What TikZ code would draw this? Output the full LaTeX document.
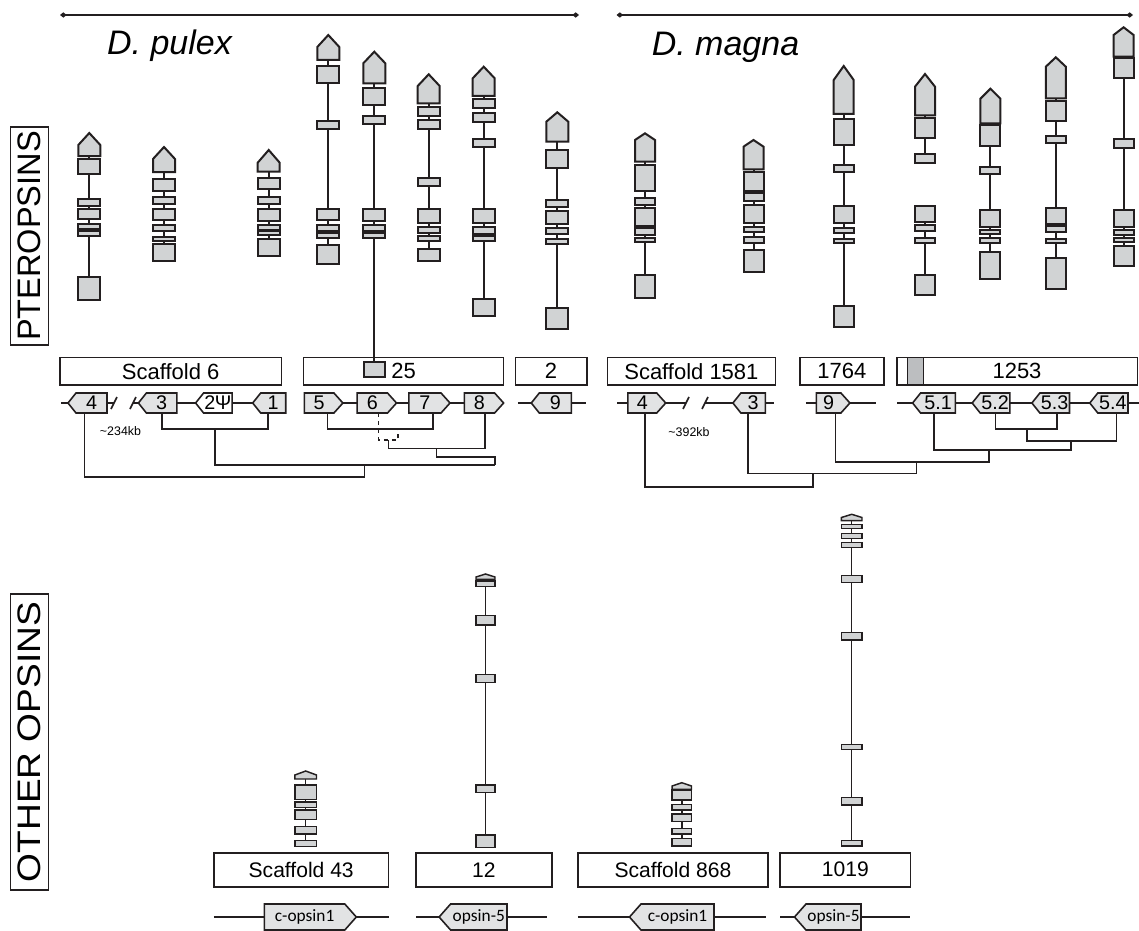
\documentclass[tikz,border=0pt]{standalone}
\usepackage{fontspec}
\usepackage{graphicx}
\setmainfont{Liberation Sans}
\newfontfamily\carl{Carlito}
\usetikzlibrary{arrows.meta}
\definecolor{exonfill}{HTML}{D1D3D4}
\definecolor{lblfill}{HTML}{E2E3E4}
\definecolor{ink}{HTML}{231F20}
\definecolor{stripfill}{HTML}{BCBEC0}
% gene structure: x, halfwidth, tip, shoulder, base, intron end, boxes
\newcommand{\gs}[7]{%
  \draw[intron] (#1,#5) -- (#1,#6);
  \draw[exon] ({#1-#2},#5) -- ({#1-#2},#4) -- (#1,#3) -- ({#1+#2},#4) -- ({#1+#2},#5) -- cycle;
  \foreach \a/\b in {#7} {\draw[exon] ({#1-#2},\a) rectangle ({#1+#2},\b);}
}
% label pointing left: name, boxL, boxR, yc, halfh, depth, text, style
\newcommand{\lblL}[8]{%
  \draw[#8] ({#2-#6},#4) -- (#2,{#4-#5}) -- (#3,{#4-#5}) -- (#3,{#4+#5}) -- (#2,{#4+#5}) -- cycle;
  \node[lbltxt] (#1) at ({(#2+#3)/2},#4) {#7};
}
\newcommand{\lblR}[8]{%
  \draw[#8] (#2,{#4-#5}) -- (#3,{#4-#5}) -- ({#3+#6},#4) -- (#3,{#4+#5}) -- (#2,{#4+#5}) -- cycle;
  \node[lbltxt] (#1) at ({(#2+#3)/2},#4) {#7};
}
\begin{document}
\begin{tikzpicture}[x=0.75pt,y=-0.75pt,
  exon/.style={draw=ink,fill=exonfill,line width=1.5pt},
  intron/.style={draw=ink,line width=1.5pt},
  lbl/.style={draw=ink,fill=lblfill,line width=1.2pt},
  lblw/.style={draw=ink,fill=white,line width=1.2pt},
  lbltxt/.style={inner sep=0pt,minimum height=15pt,font=\fontsize{14.8}{16}\selectfont},
  sbox/.style={draw=ink,line width=1.2pt},
  stxt/.style={inner sep=0pt,font=\fontsize{16.5}{18}\selectfont},
  btxt/.style={inner sep=0pt,font=\fontsize{15.8}{18}\selectfont},
  tree/.style={draw=ink,line width=1.2pt},
  bb/.style={draw=ink,line width=1.2pt},
  bar/.style={draw=ink,line width=2pt},
  side/.style={draw=ink,line width=1.2pt,rotate=90,inner sep=0pt,minimum height=28.5pt,font=\fontsize{24.4}{26}\selectfont},
  title/.style={inner sep=0pt,font=\fontsize{25.5}{28}\selectfont\itshape},
  kb/.style={inner sep=0pt,font=\fontsize{9.3}{10}\selectfont}
]
\useasboundingbox (0,0) rectangle (1139,931);

% top bars
\coordinate (bl1) at (60,15); \coordinate (bl2) at (579,15);
\coordinate (br1) at (616.5,15); \coordinate (br2) at (1133,15);
\draw[bar,{Diamond[length=5pt,width=4pt]}-{Diamond[length=5pt,width=4pt]}] (bl1) -- (bl2);
\draw[bar,{Diamond[length=5pt,width=4pt]}-{Diamond[length=5pt,width=4pt]}] (br1) -- (br2);
\node[title] (tpulex) at (169.5,46) {D. pulex};
\node[title] (tmagna) at (725.5,47) {D. magna};

% side labels
\node[side,minimum width=163.5pt] (ptero) at (29.5,236) {PTEROPSINS};
\node[side,minimum width=222pt] (other) at (29.5,742) {\scalebox{1.14}[1]{OTHER OPSINS}};

% scaffold boxes (top)
\draw[sbox] (60,357.5) rectangle (281.4,385);
\node[stxt] (s6) at (170.7,371.2) {Scaffold 6};
\draw[sbox] (303.6,357.5) rectangle (503.6,385);
\node[stxt] (s25) at (403.6,371.2) {25};
\draw[sbox] (515.4,357.5) rectangle (586.8,385);
\node[stxt] (s2) at (551.1,371.2) {2};
\draw[sbox] (607.5,357.5) rectangle (775.3,385);
\node[stxt] (s1581) at (691.4,371.2) {Scaffold 1581};
\draw[sbox] (799.8,357.5) rectangle (884,385);
\node[stxt] (s1764) at (841.9,371.2) {1764};
\draw[sbox] (897,357.5) rectangle (1137.5,385);
\draw[sbox,fill=stripfill] (907.5,357.5) rectangle (923.3,385);
\node[stxt] (s1253) at (1017,371.2) {1253};

% D. pulex genes
\gs{89.3}{11}{133}{145}{156}{277}{159/174,199/206,209/219,224/229,231/236,277/300}
\gs{164}{11}{147}{159}{172}{244}{179.3/190.7,197.3/204,208.7/220,225.3/230.7,236.7/240.7,244.3/261}
\gs{268.7}{11}{150}{162.7}{171.7}{239}{177.7/188.7,197.3/204,208.7/220.7,225.3/230,231.3/235.3,239/256}
\gs{328.3}{11}{35}{47}{60}{245}{66/82.7,121/129,209/220,225/231,233/237.7,245/263.7}
\gs{374.3}{11}{51.7}{63.3}{83.3}{361.7}{87.7/105,116/124,209/221,225/231,232.7/237.7}
\draw[exon] (364,361.7) rectangle (385,376.7);
\gs{428.7}{11}{74.3}{86}{103.3}{249}{106.7/116,120.3/129,177.7/185.7,209/223.3,227.3/233.3,235.7/240.7,249.3/261.3}
\gs{483.7}{11}{66.7}{78.3}{96}{299}{99.3/107.7,113.3/121.7,138.7/146.7,209/223.3,227.3/234,236/241,299.3/315.7}
\gs{557.3}{11}{112.3}{121.7}{141.7}{308}{150/167.7,200/207.3,211/224.3,228.3/234,239/244,308.3/329.3}

% D. magna genes
\gs{645}{10}{133.3}{140}{161.7}{274.7}{165/191,197.7/205,207.7/226,228.3/235,238/242.3,274.7/297.7}
\gs{753.5}{10}{140}{146.7}{169.3}{250}{171.7/190.7,193.3/200.7,204.7/223.3,226.7/232,237.3/242.7,250/271.7}
\gs{843.7}{10}{66}{80}{114}{306}{119.3/145.3,165/172,206/222.7,227.7/232.7,238.7/242.7,306/326.7}
\draw[intron] (925,206) -- (925,275);
\gs{925}{10}{74}{86.7}{115.3}{154.3}{118.3/138,154.3/163,206/221.7,225/230.7,238.3/242.7,275/295}
\gs{990.4}{10}{88.7}{98.7}{123.3}{251.7}{125.3/145.7,167.3/174,210.3/226.7,230/234.3,238.3/242.7,251.7/279}
\gs{1055.8}{10}{57.3}{66.7}{98.3}{258.3}{101/121,135.7/143.3,207.7/224,226.3/232.3,238.7/243.3,258.3/289.3}
\gs{1123.6}{10}{27.3}{35}{56.7}{245.7}{58.3/78.3,139.3/147.7,210.3/226.7,230/235,238/242.3,245.7/265.7}

% D. pulex label row backbones
\draw[bb] (61.4,403) -- (114,403);
\draw[bb] (111,409) -- (117,397);
\draw[bb] (130,409) -- (136,397);
\draw[bb] (133,403) -- (285.7,403);
\draw[bb] (304.3,403) -- (503,403);
\draw[bb] (517.9,403) -- (585.7,403);
% D. pulex labels
\lblL{p4}{76}{107}{403}{10}{8}{4}{lbl}
\lblL{p3}{146.4}{176.8}{403}{10}{8}{3}{lbl}
\lblL{p2}{203.6}{232.1}{403}{10}{8}{2\kern-0.5pt Ψ}{lblw}
\lblL{p1}{260.7}{285.7}{403}{10}{8}{1}{lbl}
\lblR{p5}{304.3}{333.9}{403}{10}{9}{5}{lbl}
\lblR{p6}{357.1}{387.5}{403}{10}{9}{6}{lbl}
\lblR{p7}{408.9}{441}{403}{10}{9}{7}{lbl}
\lblR{p8}{464.3}{494.6}{403}{10}{9}{8}{lbl}
\lblL{p9}{539.3}{571.4}{403}{10}{8}{9}{lbl}
\node[kb] (kb1) at (120.5,431) {\textasciitilde 234kb};

% D. pulex tree
\draw[tree] (p3.south -| 161.8,0) -- (161.8,429) -- (267.9,429) -- (p1.south -| 267.9,0);
\draw[tree] (p5.south -| 327.5,0) -- (327.5,429) -- (433.2,429) -- (p7.south -| 433.2,0);
\draw[tree,dashed] (p6.south -| 378.6,0) -- (378.6,440) -- (398.2,440) -- (398.2,429);
\draw[tree] (388.6,440) -- (388.6,448.3) -- (485,448.3) -- (p8.south -| 485,0);
\draw[tree] (436.4,448.3) -- (436.4,456.7) -- (495,456.7) -- (495,465);
\draw[tree] (215,429) -- (215,465) -- (495,465);
\draw[tree] (364.3,465) -- (364.3,476.7) -- (84.6,476.7) -- (p4.south -| 84.6,0);

% D. magna label row backbones
\draw[bb] (617.4,403) -- (686,403);
\draw[bb] (683,409) -- (689,397);
\draw[bb] (702,409) -- (708,397);
\draw[bb] (705,403) -- (774,403);
\draw[bb] (805.8,403) -- (876,403);
\draw[bb] (897,403) -- (1139,403);
\lblR{m4}{627.9}{656.7}{403}{10}{9}{4}{lbl}
\lblL{m3}{740.9}{765.4}{403}{10}{8}{3}{lbl}
\lblR{m9}{816.3}{840.9}{403}{10}{9}{9}{lbl}
\lblL{m51}{920.6}{955.4}{403}{10}{8}{5.1}{lbl}
\lblL{m52}{980.2}{1009.8}{403}{10}{8}{5.2}{lbl}
\lblL{m53}{1039.9}{1069.5}{403}{10}{8}{5.3}{lbl}
\lblL{m54}{1097.8}{1128}{403}{10}{8}{5.4}{lbl}
\node[kb] (kb2) at (689,432) {\textasciitilde 392kb};

% D. magna tree
\draw[tree] (m52.south -| 995.3,0) -- (995.3,429) -- (1056.7,429) -- (m53.south -| 1056.7,0);
\draw[tree] (1026.8,429) -- (1026.8,440.7) -- (1116.3,440.7) -- (m54.south -| 1116.3,0);
\draw[tree] (m51.south -| 933.9,0) -- (933.9,450) -- (1070.7,450) -- (1070.7,440.7);
\draw[tree] (m9.south -| 835.6,0) -- (835.6,461.7) -- (989,461.7) -- (989,450);
\draw[tree] (m3.south -| 747.9,0) -- (747.9,473.3) -- (916.3,473.3) -- (916.3,461.7);
\draw[tree] (m4.south -| 645.1,0) -- (645.1,486.7) -- (812.8,486.7) -- (812.8,473.3);

% other opsins
\begin{scope}[exon/.style={draw=ink,fill=exonfill,line width=1.1pt},
              intron/.style={draw=ink,line width=1.1pt},
              lbltxt/.style={inner sep=0pt,minimum height=19.5pt,font=\carl\fontsize{13}{15}\selectfont}]
\gs{305.7}{10.8}{771}{775}{779}{840.7}{785/799.3,802/807.7,810/819.3,826.7/834,840.7/846.7}
\gs{485.5}{9.5}{574}{577}{579.3}{835}{581/586.7,615.7/625,674.3/682.7,785/792.3,835/847.3}
\gs{681.8}{9.7}{782.7}{786}{789.3}{838.3}{790/800,804.3/810,814/821.7,828.3/834,838.3/846}
\gs{851.7}{10.3}{514.3}{517.5}{520.7}{840.7}{524.3/528.3,533.3/538.3,542.3/547.3,575.7/582.7,632.7/640,744.3/749.3,797.3/805,840.7/846}

\draw[sbox] (213.8,852.7) rectangle (388.5,886.7);
\node[btxt] (s43) at (301.2,869.7) {Scaffold 43};
\draw[sbox] (416.1,852.7) rectangle (551.7,886.7);
\node[btxt] (s12) at (483.9,869.7) {12};
\draw[sbox] (577.9,852.7) rectangle (767.8,886.7);
\node[btxt] (s868) at (672.9,869.7) {Scaffold 868};
\draw[sbox] (780.2,852.7) rectangle (910.3,886.7);
\node[btxt] (s1019) at (845.3,869.7) {1019};

\draw[bb] (213.8,917) -- (388.5,917);
\draw[bb] (416.1,917) -- (547,917);
\draw[bb] (577.9,917) -- (765.5,917);
\draw[bb] (780.2,917) -- (910.3,917);
\lblR{bc1}{264.4}{344.8}{917}{13}{11.5}{c-opsin1}{lbl}
\lblL{bo5}{450.6}{507}{917}{13}{11.5}{opsin-5}{lbl}
\lblL{mc1}{641}{714}{917}{13}{11.5}{c-opsin1}{lbl}
\lblL{mo5}{806}{861}{917}{13}{11.5}{opsin-5}{lbl}
\end{scope}
\end{tikzpicture}
\end{document}
